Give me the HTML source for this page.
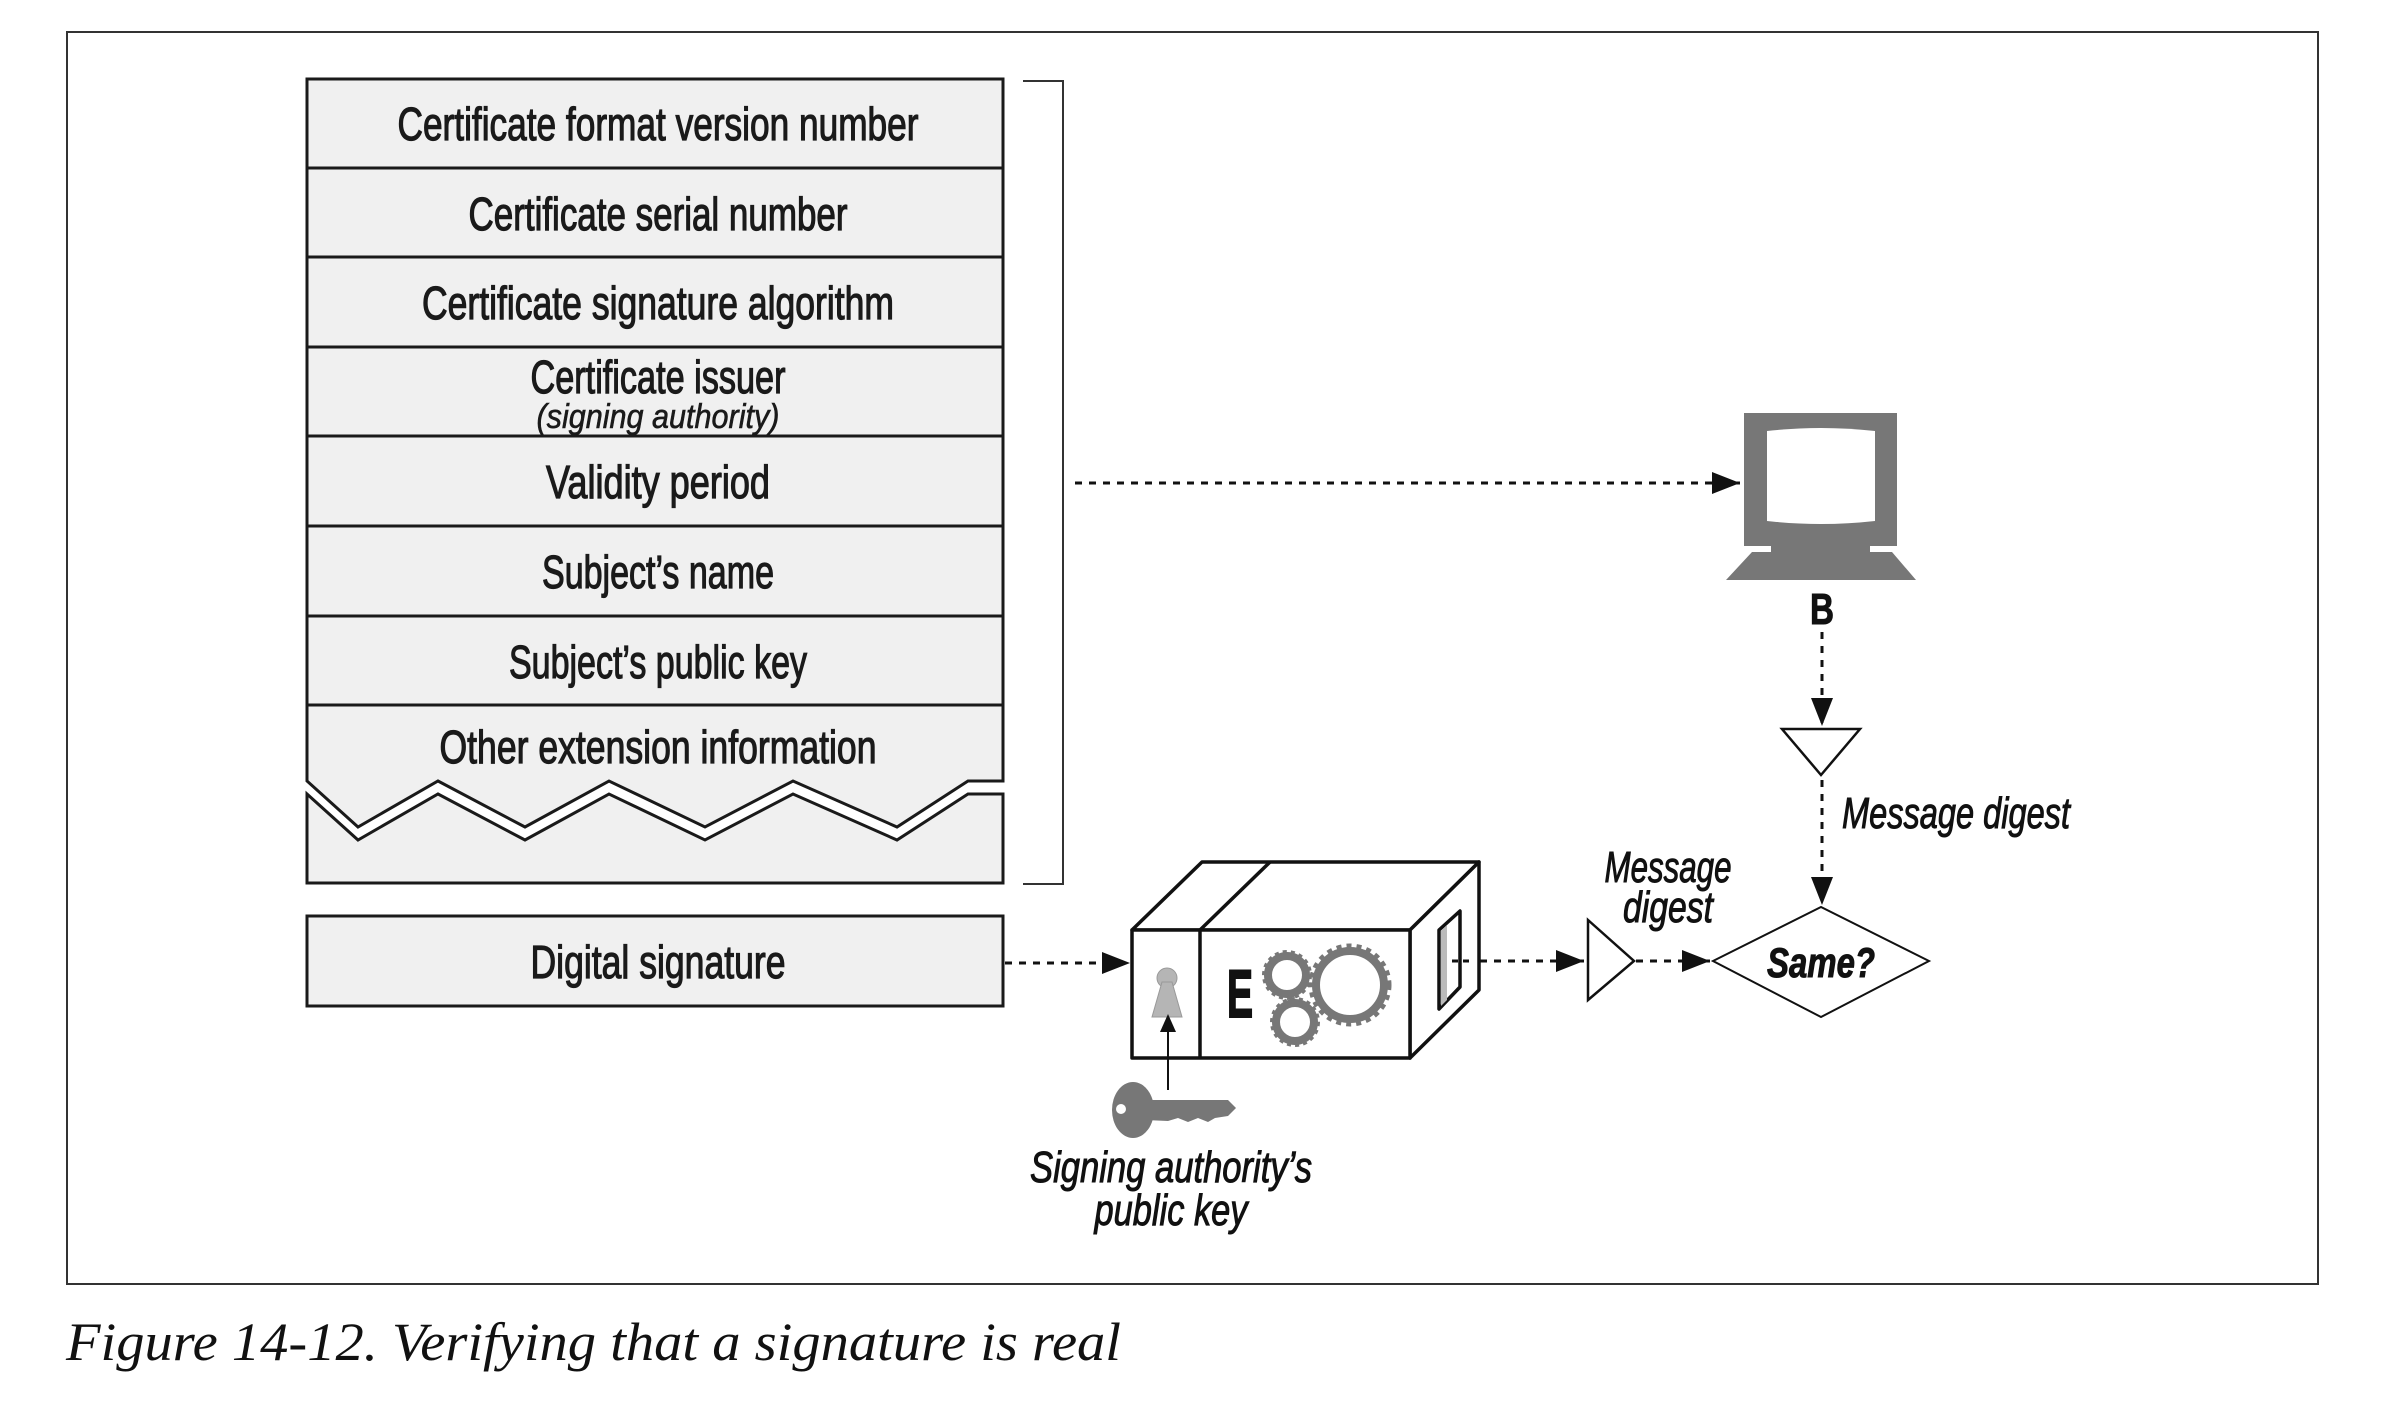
<!DOCTYPE html>
<html><head><meta charset="utf-8"><style>html,body{margin:0;padding:0;background:#fff}svg{display:block}</style></head>
<body>
<svg width="2396" height="1402" viewBox="0 0 2396 1402" xmlns="http://www.w3.org/2000/svg">
<defs>
<marker id="ah2" viewBox="0 0 10 10" markerWidth="28" markerHeight="22" refX="10" refY="5" orient="auto" markerUnits="userSpaceOnUse" preserveAspectRatio="none"><path d="M0,0 L10,5 L0,10 Z" fill="#111"/></marker>
</defs>
<rect x="67" y="32" width="2251" height="1252" fill="none" stroke="#333" stroke-width="2"/>
<g stroke="#1a1a1a" stroke-width="3" fill="#f0f0f0">
<rect x="307" y="79" width="696" height="626"/>
<line x1="307" y1="168" x2="1003" y2="168"/><line x1="307" y1="257" x2="1003" y2="257"/>
<line x1="307" y1="347" x2="1003" y2="347"/><line x1="307" y1="436" x2="1003" y2="436"/>
<line x1="307" y1="526" x2="1003" y2="526"/><line x1="307" y1="616" x2="1003" y2="616"/>
<path d="M307,705 L1003,705 L1003,781 L968,781 L897,827 L793,781 L705,827 L609,781 L525,827 L438,781 L358,827 L307,781 Z"/>
<path d="M307,794 L358,840 L438,794 L525,840 L609,794 L705,840 L793,794 L897,840 L968,794 L1003,794 L1003,883 L307,883 Z"/>
<rect x="307" y="916" width="696" height="90"/>
</g>
<path d="M1023,81 L1063,81 L1063,884 L1023,884" fill="none" stroke="#333" stroke-width="2"/>
<g font-family="Liberation Sans, sans-serif" font-size="46" fill="#1a1a1a" stroke="#1a1a1a" stroke-width="1.2" text-anchor="middle">
<text x="658" y="140" textLength="521" lengthAdjust="spacingAndGlyphs">Certificate format version number</text>
<text x="658" y="230" textLength="379" lengthAdjust="spacingAndGlyphs">Certificate serial number</text>
<text x="658" y="319" textLength="472" lengthAdjust="spacingAndGlyphs">Certificate signature algorithm</text>
<text x="658" y="393" textLength="255" lengthAdjust="spacingAndGlyphs">Certificate issuer</text>
<text x="658" y="428" font-size="34" font-style="italic" stroke-width="0.6" textLength="243" lengthAdjust="spacingAndGlyphs">(signing authority)</text>
<text x="658" y="498" textLength="224" lengthAdjust="spacingAndGlyphs">Validity period</text>
<text x="658" y="588" textLength="232" lengthAdjust="spacingAndGlyphs">Subject’s name</text>
<text x="658" y="678" textLength="298" lengthAdjust="spacingAndGlyphs">Subject’s public key</text>
<text x="658" y="763" textLength="437" lengthAdjust="spacingAndGlyphs">Other extension information</text>
<text x="658" y="978" textLength="255" lengthAdjust="spacingAndGlyphs">Digital signature</text>
</g>
<g stroke="#111" stroke-width="3" stroke-dasharray="7,7" fill="none">
<line x1="1075" y1="483" x2="1740" y2="483" marker-end="url(#ah2)"/>
<line x1="1005" y1="963" x2="1130" y2="963" marker-end="url(#ah2)"/>
<line x1="1452" y1="961" x2="1584" y2="961" marker-end="url(#ah2)"/>
<line x1="1636" y1="961" x2="1710" y2="961" marker-end="url(#ah2)"/>
<line x1="1822" y1="632" x2="1822" y2="726" marker-end="url(#ah2)"/>
<line x1="1822" y1="780" x2="1822" y2="905" marker-end="url(#ah2)"/>
</g>
<g fill="#777">
<rect x="1744" y="413" width="153" height="133"/>
<rect x="1771" y="544" width="99" height="10"/>
<path d="M1752,552 L1892,552 L1916,580 L1726,580 Z"/>
</g>
<path d="M1767,431 Q1821,425 1875,431 L1875,521 Q1821,527 1767,521 Z" fill="#fff"/>
<text x="1822" y="624" font-family="Liberation Sans, sans-serif" font-weight="bold" font-size="44" text-anchor="middle" textLength="24" lengthAdjust="spacingAndGlyphs" fill="#111" stroke="#111" stroke-width="1">B</text>
<path d="M1782,729 L1860,729 L1821,775 Z" fill="#fff" stroke="#111" stroke-width="2.5"/>
<g font-family="Liberation Sans, sans-serif" font-style="italic" font-size="44" fill="#111" stroke="#111" stroke-width="1">
<text x="1842" y="828" textLength="228" lengthAdjust="spacingAndGlyphs">Message digest</text>
</g>
<path d="M1713,961 L1821,907 L1929,961 L1821,1017 Z" fill="#fff" stroke="#111" stroke-width="2"/>
<text x="1821" y="977" font-family="Liberation Sans, sans-serif" font-style="italic" font-weight="bold" font-size="42" text-anchor="middle" textLength="108" lengthAdjust="spacingAndGlyphs" fill="#111" stroke="#111" stroke-width="1">Same?</text>
<path d="M1588,920 L1634,961 L1588,1000 Z" fill="#fff" stroke="#111" stroke-width="2.5"/>
<g font-family="Liberation Sans, sans-serif" font-style="italic" font-size="44" fill="#111" stroke="#111" stroke-width="1" text-anchor="middle">
<text x="1668" y="882" textLength="127" lengthAdjust="spacingAndGlyphs">Message</text>
<text x="1668" y="922" textLength="90" lengthAdjust="spacingAndGlyphs">digest</text>
<text x="1171" y="1182" textLength="282" lengthAdjust="spacingAndGlyphs">Signing authority’s</text>
<text x="1171" y="1225" textLength="153" lengthAdjust="spacingAndGlyphs">public key</text>
</g>
<g stroke="#111" stroke-width="3.5" fill="#fff" stroke-linejoin="round">
<path d="M1132,930 L1202,862 L1479,862 L1410,930 Z"/>
<path d="M1410,930 L1479,862 L1479,990 L1410,1058 Z"/>
<rect x="1132" y="930" width="278" height="128"/>
<line x1="1200" y1="930" x2="1200" y2="1058"/>
<line x1="1200" y1="930" x2="1270" y2="862"/>
<path d="M1439,930 L1460,911 L1460,987 L1439,1009 Z" fill="#fff"/>
</g>
<path d="M1441,931 L1447,925 L1447,1000 L1441,1006 Z" fill="#bbb"/>
<line x1="1452" y1="961" x2="1470" y2="961" stroke="#111" stroke-width="3" stroke-dasharray="6,5"/>
<circle cx="1167" cy="978" r="10" fill="#b5b5b5" stroke="#999" stroke-width="1"/>
<path d="M1162,982 L1172,982 L1182,1017 L1152,1017 Z" fill="#b5b5b5" stroke="#999" stroke-width="1"/>
<line x1="1168" y1="1090" x2="1168" y2="1030" stroke="#111" stroke-width="2"/>
<path d="M1160,1032 L1168,1014 L1176,1032 Z" fill="#111"/>
<text x="1240" y="1017" font-family="Liberation Sans, sans-serif" font-weight="bold" font-size="68" text-anchor="middle" textLength="26" lengthAdjust="spacingAndGlyphs" fill="#111" stroke="#111" stroke-width="2">E</text>
<g fill="none" stroke="#777">
<circle cx="1287" cy="975" r="19" stroke-width="8"/>
<circle cx="1287" cy="975" r="23" stroke-width="4" stroke-dasharray="4,4"/>
<circle cx="1295" cy="1022" r="19" stroke-width="8"/>
<circle cx="1295" cy="1022" r="23" stroke-width="4" stroke-dasharray="4,4"/>
<circle cx="1350" cy="985" r="34" stroke-width="8"/>
<circle cx="1350" cy="985" r="39" stroke-width="5" stroke-dasharray="5,5"/>
</g>
<g fill="#777">
<ellipse cx="1133" cy="1110" rx="21" ry="28"/>
<path d="M1145,1100 L1228,1100 L1236,1108 L1228,1116 L1215,1118 L1208,1122 L1198,1118 L1188,1122 L1178,1118 L1168,1121 L1145,1120 Z"/>
</g>
<circle cx="1121" cy="1109" r="5" fill="#fff"/>
<text x="66" y="1360" font-family="Liberation Serif, serif" font-style="italic" font-size="54" textLength="1055" lengthAdjust="spacingAndGlyphs" fill="#111">Figure 14-12. Verifying that a signature is real</text>
</svg>
</body></html>
